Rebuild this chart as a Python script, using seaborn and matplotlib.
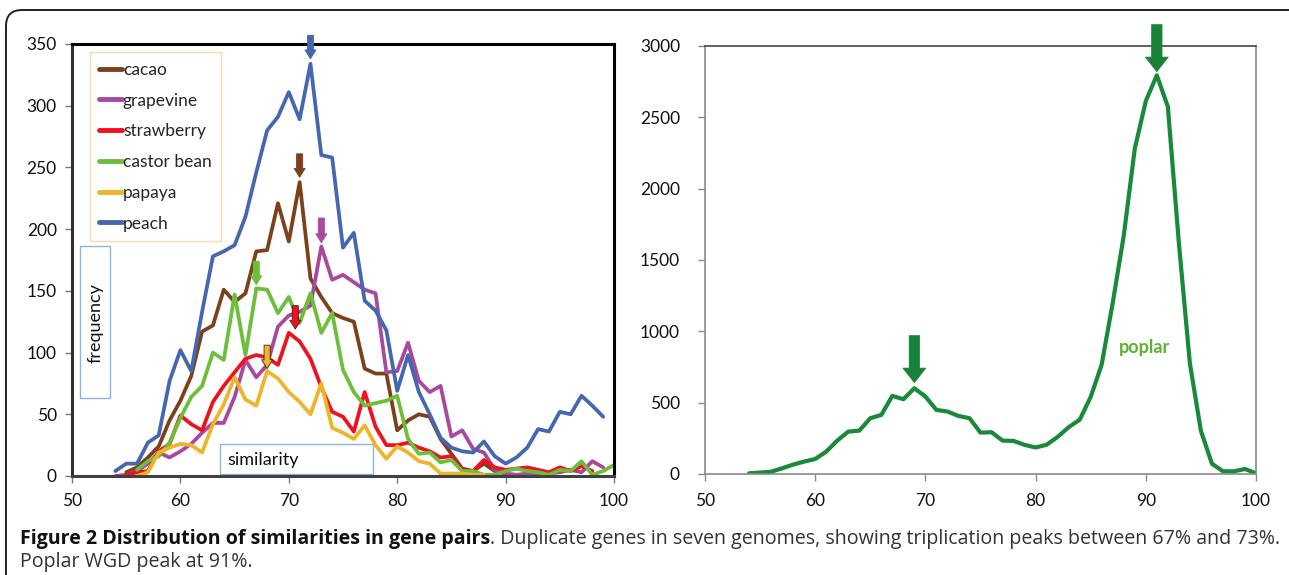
import matplotlib
matplotlib.use("Agg")
import matplotlib.pyplot as plt
import matplotlib.transforms as mtransforms
import pandas as pd
import seaborn as sns
from matplotlib.patches import FancyBboxPatch, Rectangle

# ---- data ----
peach_x = list(range(54, 100))
peach = [4, 10, 10, 27, 33, 77, 102, 85, 133, 178, 182, 187, 210, 246, 280, 291, 311, 289, 334, 260,
         258, 185, 197, 142, 134, 118, 69, 98, 68, 50, 31, 23, 20, 19, 28, 16, 10, 15, 23, 38,
         36, 52, 50, 65, 57, 48]
cacao_x = list(range(55, 91))
cacao = [3, 7, 15, 24, 45, 61, 81, 117, 122, 151, 141, 148, 182, 183, 221, 190, 238, 160, 145, 132,
         128, 125, 87, 83, 83, 37, 45, 50, 48, 30, 18, 6, 4, 10, 4, 2]
grape_x = list(range(54, 100))
grape = [0, 1, 4, 10, 19, 15, 20, 26, 35, 43, 43, 64, 94, 80, 90, 121, 130, 133, 138, 186,
         159, 163, 157, 151, 148, 84, 85, 108, 77, 68, 73, 32, 37, 22, 19, 5, 2, 1, 2, 1,
         2, 3, 5, 3, 12, 7]
straw_x = list(range(55, 99))
straw = [1, 3, 4, 20, 26, 49, 42, 37, 60, 73, 84, 95, 98, 96, 90, 116, 109, 95, 72, 52,
         48, 36, 68, 40, 25, 25, 27, 23, 20, 15, 16, 5, 4, 13, 7, 5, 6, 7, 5, 3,
         7, 4, 8, 4]
castor_x = list(range(56, 101))
castor = [5, 12, 16, 27, 47, 64, 73, 100, 94, 147, 98, 152, 151, 132, 145, 124, 148, 116, 132, 86,
          68, 57, 59, 61, 65, 30, 18, 19, 11, 13, 4, 4, 1, 1, 4, 6, 4, 3, 1, 5,
          4, 12, 1, 4, 9]
papaya_x = list(range(56, 89))
papaya = [0, 3, 19, 23, 26, 25, 19, 42, 58, 80, 62, 57, 85, 79, 68, 60, 50, 75, 39, 35,
          30, 41, 25, 14, 24, 19, 12, 10, 2, 2, 2, 1, 1]
poplar_x = list(range(54, 101))
poplar = [5, 10, 16, 40, 66, 87, 105, 157, 234, 297, 304, 391, 414, 548, 524, 601, 543, 449, 438, 407,
          391, 290, 293, 234, 232, 204, 186, 205, 260, 328, 380, 540, 768, 1200, 1670, 2280, 2614, 2795, 2575, 1620,
          775, 303, 72, 19, 19, 35, 5]

species = ["cacao", "grapevine", "strawberry", "castor bean", "papaya", "peach"]
colors = {"cacao": "#7E3F1B", "grapevine": "#A8489E", "strawberry": "#F0101E",
          "castor bean": "#6CBF3A", "papaya": "#EEB42A", "peach": "#4567B0"}
series = {"cacao": (cacao_x, cacao), "grapevine": (grape_x, grape), "strawberry": (straw_x, straw),
          "castor bean": (castor_x, castor), "papaya": (papaya_x, papaya), "peach": (peach_x, peach)}

# arrows: (x, tail y, tip y)
left_arrows = {"peach": (72, 357, 338), "cacao": (71, 261, 242), "grapevine": (73, 209, 189),
               "castor bean": (67, 174, 155), "strawberry": (70.6, 138, 119), "papaya": (68, 106, 87)}
poplar_arrows = [(69, 970, 640), (91, 3150, 2820)]

sns.set_style("white")
plt.rcParams["font.family"] = ["Lato", "DejaVu Sans"]

W, H = 1289, 575
fig = plt.figure(figsize=(W / 100, H / 100), dpi=100)
ax1 = fig.add_axes([72 / W, 1 - 476 / H, 542 / W, 432 / H])
ax2 = fig.add_axes([705 / W, 1 - 474 / H, 551 / W, 428 / H])

# ---- left panel ----
for name in species:
    xs, ys = series[name]
    df = pd.DataFrame({"similarity": xs, "frequency": ys})
    sns.lineplot(data=df, x="similarity", y="frequency", color=colors[name], lw=2.7,
                 ax=ax1, label=name)

for name, (x, y0, y1) in left_arrows.items():
    ec = "#3a2a10" if name in ("strawberry", "papaya") else colors[name]
    ax1.annotate("", xy=(x, y1), xytext=(x, y0), annotation_clip=False,
                 arrowprops=dict(arrowstyle="simple,head_length=0.8,head_width=1.0,tail_width=0.55",
                                 mutation_scale=8, fc=colors[name], ec=ec, lw=0.6, shrinkA=0, shrinkB=0))

ax1.set_xlim(50, 100)
ax1.set_ylim(0, 350)
ax1.set_xticks(range(50, 101, 10))
ax1.set_yticks(range(0, 351, 50))
ax1.set_xlabel("")
ax1.set_ylabel("")
for s in ax1.spines.values():
    s.set_visible(True)
    s.set_color("black")
    s.set_linewidth(2.2)
ax1.spines["bottom"].set_color("#404040")
ax1.spines["left"].set_color("#303030")
ax1.tick_params(axis="both", which="both", direction="out", length=5, width=1,
                color="#777777", labelsize=12.5, labelcolor="#111111")
ax1.tick_params(axis="x", bottom=True, pad=7)
ax1.tick_params(axis="y", left=True, pad=6)

handles, labels = ax1.get_legend_handles_labels()
leg = ax1.legend(handles, labels, loc="upper left", bbox_to_anchor=(0.033, 0.981),
                 borderaxespad=0, fontsize=12.5, handlelength=1.3, handletextpad=0.05,
                 labelspacing=0.85, frameon=True, fancybox=False, borderpad=0.55)
leg.get_frame().set_edgecolor("#F6D58E")
leg.get_frame().set_linewidth(1.0)
for ln in leg.get_lines():
    ln.set_linewidth(3.5)

ax1.add_patch(Rectangle((0.015, 0.18), 0.055, 0.352, transform=ax1.transAxes,
                        fill=False, ec="#8DB3E2", lw=1.0, clip_on=False))
ax1.text(0.044, 0.355, "frequency", rotation=90, transform=ax1.transAxes,
         ha="center", va="center", fontsize=13, color="#111111")
ax1.add_patch(Rectangle((0.273, 0.005), 0.282, 0.069, transform=ax1.transAxes,
                        fill=False, ec="#8DB3E2", lw=1.0, clip_on=False))
ax1.text(0.287, 0.036, "similarity", transform=ax1.transAxes,
         ha="left", va="center", fontsize=13, color="#111111")

# ---- right panel ----
sns.lineplot(x=poplar_x, y=poplar, color="#188A3A", lw=3.0, ax=ax2)
for x, y0, y1 in poplar_arrows:
    ax2.annotate("", xy=(x, y1), xytext=(x, y0), annotation_clip=False,
                 arrowprops=dict(arrowstyle="simple,head_length=0.7,head_width=1.1,tail_width=0.5",
                                 mutation_scale=15, fc="#178238", ec="#178238", lw=0.5,
                                 shrinkA=0, shrinkB=0))
ax2.text(89.9, 890, "poplar", color="#5DB12F", fontsize=13, weight="bold",
         ha="center", va="center")
ax2.set_xlim(50, 100)
ax2.set_ylim(0, 3000)
ax2.set_xticks(range(50, 101, 10))
ax2.set_yticks(range(0, 3001, 500))
for s in ax2.spines.values():
    s.set_visible(True)
    s.set_color("#8a8a8a")
    s.set_linewidth(1.2)
ax2.spines["top"].set_color("#444444")
ax2.tick_params(axis="both", which="both", direction="out", length=5, width=1,
                color="#8a8a8a", labelsize=12.5, labelcolor="#111111")
ax2.tick_params(axis="x", bottom=True, pad=9)
ax2.tick_params(axis="y", left=True, pad=13)

# ---- outer rounded frame ----
frame = FancyBboxPatch((6, -60), 1400, (H - 10) + 60, boxstyle="round,pad=0,rounding_size=16",
                       transform=mtransforms.IdentityTransform(), fill=False, ec="#222222", lw=1.4)
fig.add_artist(frame)

# ---- caption ----
fig.canvas.draw()
r = fig.canvas.get_renderer()
cap_font = ["Open Sans", "Lato", "DejaVu Sans"]
cap_size = 14.1
t1 = fig.text(20 / W, 1 - 539 / H, "Figure 2 Distribution of similarities in gene pairs",
              weight="bold", va="center", ha="left", fontsize=cap_size, color="#111111", family=cap_font)
bb = t1.get_window_extent(r)
fig.text(bb.x1 / W, 1 - 539 / H,
         ". Duplicate genes in seven genomes, showing triplication peaks between 67% and 73%.",
         va="center", ha="left", fontsize=cap_size, color="#333333", family=cap_font)
fig.text(20 / W, 1 - 562 / H, "Poplar WGD peak at 91%.", va="center", ha="left",
         fontsize=cap_size, color="#333333", family=cap_font)

fig.savefig("out.png", dpi=100)
